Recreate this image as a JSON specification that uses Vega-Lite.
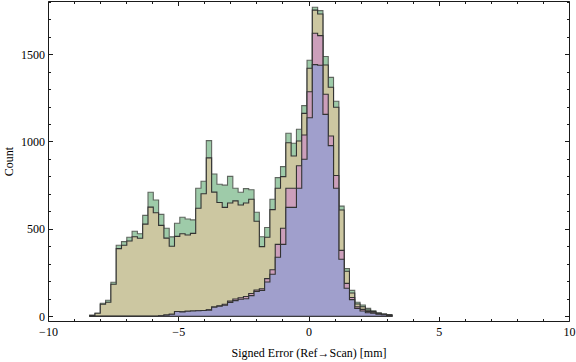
{
  "$schema": "https://vega.github.io/schema/vega-lite/v6.json",
  "width": 521,
  "height": 320,
  "autosize": "none",
  "padding": {"left": 48, "top": 1, "right": 7, "bottom": 41},
  "config": {
    "view": {"stroke": "#1a1a1a", "strokeWidth": 1},
    "axis": {
      "labelFont": "Liberation Serif",
      "titleFont": "Liberation Serif",
      "labelFontSize": 12,
      "titleFontSize": 12,
      "titleFontWeight": "normal",
      "labelColor": "#000",
      "titleColor": "#000",
      "tickColor": "#1a1a1a",
      "tickWidth": 1,
      "domain": false,
      "grid": false,
      "labelFlush": false,
      "labelOverlap": false
    }
  },
  "datasets": {
    "green": [
      {"x": -8.4, "c": 5}, {"x": -8.196, "c": 17}, {"x": -7.993, "c": 74}, {"x": -7.789, "c": 91}, {"x": -7.586, "c": 194},
      {"x": -7.382, "c": 406}, {"x": -7.179, "c": 427}, {"x": -6.975, "c": 452}, {"x": -6.772, "c": 486}, {"x": -6.568, "c": 472},
      {"x": -6.365, "c": 577}, {"x": -6.161, "c": 709}, {"x": -5.958, "c": 665}, {"x": -5.754, "c": 583}, {"x": -5.551, "c": 503},
      {"x": -5.347, "c": 454}, {"x": -5.144, "c": 532}, {"x": -4.94, "c": 566}, {"x": -4.737, "c": 556}, {"x": -4.533, "c": 551},
      {"x": -4.33, "c": 732}, {"x": -4.126, "c": 772}, {"x": -3.923, "c": 1005}, {"x": -3.719, "c": 814}, {"x": -3.516, "c": 755},
      {"x": -3.312, "c": 750}, {"x": -3.109, "c": 800}, {"x": -2.905, "c": 732}, {"x": -2.702, "c": 709}, {"x": -2.498, "c": 730},
      {"x": -2.295, "c": 724}, {"x": -2.091, "c": 595}, {"x": -1.888, "c": 455}, {"x": -1.684, "c": 508}, {"x": -1.481, "c": 669},
      {"x": -1.277, "c": 793}, {"x": -1.074, "c": 856}, {"x": -0.87, "c": 1047}, {"x": -0.667, "c": 990}, {"x": -0.463, "c": 1070},
      {"x": -0.26, "c": 1205}, {"x": -0.056, "c": 1465}, {"x": 0.147, "c": 1768}, {"x": 0.351, "c": 1749}, {"x": 0.554, "c": 1486},
      {"x": 0.758, "c": 1367}, {"x": 0.961, "c": 1230}, {"x": 1.165, "c": 630}, {"x": 1.368, "c": 272}, {"x": 1.572, "c": 148},
      {"x": 1.775, "c": 80}, {"x": 1.979, "c": 64}, {"x": 2.182, "c": 45}, {"x": 2.386, "c": 31}, {"x": 2.589, "c": 20},
      {"x": 2.793, "c": 13}, {"x": 2.996, "c": 8}, {"x": 3.2, "c": 0}
    ],
    "tan": [
      {"x": -8.4, "c": 5}, {"x": -8.196, "c": 17}, {"x": -7.993, "c": 68}, {"x": -7.789, "c": 80}, {"x": -7.586, "c": 183},
      {"x": -7.382, "c": 387}, {"x": -7.179, "c": 406}, {"x": -6.975, "c": 430}, {"x": -6.772, "c": 455}, {"x": -6.568, "c": 446},
      {"x": -6.365, "c": 527}, {"x": -6.161, "c": 624}, {"x": -5.958, "c": 592}, {"x": -5.754, "c": 520}, {"x": -5.551, "c": 447},
      {"x": -5.347, "c": 400}, {"x": -5.144, "c": 457}, {"x": -4.94, "c": 472}, {"x": -4.737, "c": 465}, {"x": -4.533, "c": 474},
      {"x": -4.33, "c": 618}, {"x": -4.126, "c": 701}, {"x": -3.923, "c": 906}, {"x": -3.719, "c": 710}, {"x": -3.516, "c": 651},
      {"x": -3.312, "c": 623}, {"x": -3.109, "c": 648}, {"x": -2.905, "c": 660}, {"x": -2.702, "c": 636}, {"x": -2.498, "c": 648},
      {"x": -2.295, "c": 669}, {"x": -2.091, "c": 543}, {"x": -1.888, "c": 398}, {"x": -1.684, "c": 452}, {"x": -1.481, "c": 610},
      {"x": -1.277, "c": 732}, {"x": -1.074, "c": 799}, {"x": -0.87, "c": 993}, {"x": -0.667, "c": 917}, {"x": -0.463, "c": 1003},
      {"x": -0.26, "c": 1161}, {"x": -0.056, "c": 1419}, {"x": 0.147, "c": 1752}, {"x": 0.351, "c": 1730}, {"x": 0.554, "c": 1438},
      {"x": 0.758, "c": 1310}, {"x": 0.961, "c": 1196}, {"x": 1.165, "c": 608}, {"x": 1.368, "c": 257}, {"x": 1.572, "c": 133},
      {"x": 1.775, "c": 70}, {"x": 1.979, "c": 54}, {"x": 2.182, "c": 35}, {"x": 2.386, "c": 26}, {"x": 2.589, "c": 17},
      {"x": 2.793, "c": 11}, {"x": 2.996, "c": 7}, {"x": 3.2, "c": 0}
    ],
    "pink": [
      {"x": -8.4, "c": 0}, {"x": -8.196, "c": 0}, {"x": -7.993, "c": 0}, {"x": -7.789, "c": 0}, {"x": -7.586, "c": 0},
      {"x": -7.382, "c": 0}, {"x": -7.179, "c": 0}, {"x": -6.975, "c": 0}, {"x": -6.772, "c": 0}, {"x": -6.568, "c": 0},
      {"x": -6.365, "c": 0}, {"x": -6.161, "c": 0}, {"x": -5.958, "c": 0}, {"x": -5.754, "c": 2}, {"x": -5.551, "c": 7},
      {"x": -5.347, "c": 11}, {"x": -5.144, "c": 27}, {"x": -4.94, "c": 25}, {"x": -4.737, "c": 28}, {"x": -4.533, "c": 30},
      {"x": -4.33, "c": 31}, {"x": -4.126, "c": 33}, {"x": -3.923, "c": 36}, {"x": -3.719, "c": 53}, {"x": -3.516, "c": 59},
      {"x": -3.312, "c": 68}, {"x": -3.109, "c": 86}, {"x": -2.905, "c": 98}, {"x": -2.702, "c": 106}, {"x": -2.498, "c": 113},
      {"x": -2.295, "c": 130}, {"x": -2.091, "c": 150}, {"x": -1.888, "c": 157}, {"x": -1.684, "c": 215}, {"x": -1.481, "c": 266},
      {"x": -1.277, "c": 411}, {"x": -1.074, "c": 503}, {"x": -0.87, "c": 732}, {"x": -0.667, "c": 732}, {"x": -0.463, "c": 861},
      {"x": -0.26, "c": 1037}, {"x": -0.056, "c": 1285}, {"x": 0.147, "c": 1619}, {"x": 0.351, "c": 1606}, {"x": 0.554, "c": 1270},
      {"x": 0.758, "c": 1031}, {"x": 0.961, "c": 805}, {"x": 1.165, "c": 377}, {"x": 1.368, "c": 188}, {"x": 1.572, "c": 107},
      {"x": 1.775, "c": 54}, {"x": 1.979, "c": 39}, {"x": 2.182, "c": 26}, {"x": 2.386, "c": 20}, {"x": 2.589, "c": 13},
      {"x": 2.793, "c": 9}, {"x": 2.996, "c": 6}, {"x": 3.2, "c": 0}
    ],
    "blue": [
      {"x": -8.4, "c": 0}, {"x": -8.196, "c": 0}, {"x": -7.993, "c": 0}, {"x": -7.789, "c": 0}, {"x": -7.586, "c": 0},
      {"x": -7.382, "c": 0}, {"x": -7.179, "c": 0}, {"x": -6.975, "c": 0}, {"x": -6.772, "c": 0}, {"x": -6.568, "c": 0},
      {"x": -6.365, "c": 0}, {"x": -6.161, "c": 0}, {"x": -5.958, "c": 0}, {"x": -5.754, "c": 2}, {"x": -5.551, "c": 7},
      {"x": -5.347, "c": 11}, {"x": -5.144, "c": 27}, {"x": -4.94, "c": 25}, {"x": -4.737, "c": 28}, {"x": -4.533, "c": 30},
      {"x": -4.33, "c": 31}, {"x": -4.126, "c": 33}, {"x": -3.923, "c": 35}, {"x": -3.719, "c": 52}, {"x": -3.516, "c": 57},
      {"x": -3.312, "c": 63}, {"x": -3.109, "c": 78}, {"x": -2.905, "c": 89}, {"x": -2.702, "c": 97}, {"x": -2.498, "c": 100},
      {"x": -2.295, "c": 118}, {"x": -2.091, "c": 142}, {"x": -1.888, "c": 148}, {"x": -1.684, "c": 196}, {"x": -1.481, "c": 240},
      {"x": -1.277, "c": 337}, {"x": -1.074, "c": 411}, {"x": -0.87, "c": 623}, {"x": -0.667, "c": 623}, {"x": -0.463, "c": 732},
      {"x": -0.26, "c": 898}, {"x": -0.056, "c": 1136}, {"x": 0.147, "c": 1440}, {"x": 0.351, "c": 1436}, {"x": 0.554, "c": 1155},
      {"x": 0.758, "c": 976}, {"x": 0.961, "c": 732}, {"x": 1.165, "c": 326}, {"x": 1.368, "c": 160}, {"x": 1.572, "c": 95},
      {"x": 1.775, "c": 45}, {"x": 1.979, "c": 30}, {"x": 2.182, "c": 20}, {"x": 2.386, "c": 17}, {"x": 2.589, "c": 11},
      {"x": 2.793, "c": 8}, {"x": 2.996, "c": 5}, {"x": 3.2, "c": 0}
    ]
  },
  "layer": [
    {
      "data": {"name": "green"},
      "mark": {"type": "area", "interpolate": "step-after", "fill": "#9ecba9", "stroke": "#5f665f", "strokeWidth": 1.1},
      "encoding": {
        "x": {"field": "x", "type": "quantitative", "scale": {"domain": [-10, 10], "nice": false, "zero": false},
          "axis": {"orient": "bottom", "values": [-10, -5, 0, 5, 10], "tickSize": -4.5, "labelPadding": 10, "title": "Signed Error (Ref→Scan) [mm]", "titlePadding": 10}},
        "y": {"field": "c", "type": "quantitative", "scale": {"domain": [-27.5, 1804], "nice": false, "zero": false},
          "axis": {"orient": "left", "values": [0, 500, 1000, 1500], "format": "d", "tickSize": -4.5, "labelPadding": 8, "title": "Count", "titlePadding": 5}},
        "y2": {"datum": 0}
      }
    },
    {
      "data": {"name": "tan"},
      "mark": {"type": "area", "interpolate": "step-after", "fill": "#ccc7a1", "stroke": "#333333", "strokeWidth": 1.1},
      "encoding": {
        "x": {"field": "x", "type": "quantitative", "scale": {"domain": [-10, 10], "nice": false, "zero": false},
          "axis": {"orient": "bottom", "values": [-9, -8, -7, -6, -4, -3, -2, -1, 1, 2, 3, 4, 6, 7, 8, 9], "tickSize": -2.5, "labels": false, "title": null}},
        "y": {"field": "c", "type": "quantitative", "scale": {"domain": [-27.5, 1804], "nice": false, "zero": false},
          "axis": {"orient": "left", "values": [100, 200, 300, 400, 600, 700, 800, 900, 1100, 1200, 1300, 1400, 1600, 1700, 1800], "tickSize": -2.5, "labels": false, "title": null}},
        "y2": {"datum": 0}
      }
    },
    {
      "data": {"name": "pink"},
      "mark": {"type": "area", "interpolate": "step-after", "fill": "#cc9fbb", "stroke": "#333333", "strokeWidth": 1.1},
      "encoding": {
        "x": {"field": "x", "type": "quantitative", "scale": {"domain": [-10, 10], "nice": false, "zero": false},
          "axis": {"orient": "top", "values": [-10, -5, 0, 5, 10], "tickSize": -4.5, "labels": false, "title": null}},
        "y": {"field": "c", "type": "quantitative", "scale": {"domain": [-27.5, 1804], "nice": false, "zero": false},
          "axis": {"orient": "right", "values": [0, 500, 1000, 1500], "tickSize": -4.5, "labels": false, "title": null}},
        "y2": {"datum": 0}
      }
    },
    {
      "data": {"name": "blue"},
      "mark": {"type": "area", "interpolate": "step-after", "fill": "#a09fcc", "stroke": "#333333", "strokeWidth": 1.1},
      "encoding": {
        "x": {"field": "x", "type": "quantitative", "scale": {"domain": [-10, 10], "nice": false, "zero": false},
          "axis": {"orient": "top", "values": [-9, -8, -7, -6, -4, -3, -2, -1, 1, 2, 3, 4, 6, 7, 8, 9], "tickSize": -2.5, "labels": false, "title": null}},
        "y": {"field": "c", "type": "quantitative", "scale": {"domain": [-27.5, 1804], "nice": false, "zero": false},
          "axis": {"orient": "right", "values": [100, 200, 300, 400, 600, 700, 800, 900, 1100, 1200, 1300, 1400, 1600, 1700, 1800], "tickSize": -2.5, "labels": false, "title": null}},
        "y2": {"datum": 0}
      }
    }
  ],
  "resolve": {"axis": {"x": "independent", "y": "independent"}}
}
